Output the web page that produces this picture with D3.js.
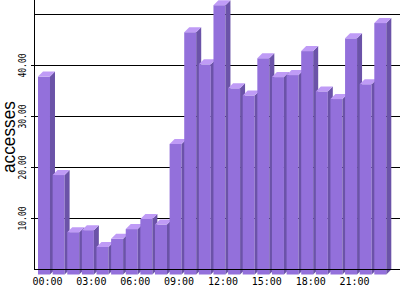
<!DOCTYPE html>
<html><head><meta charset="utf-8">
<script src="https://cdn.jsdelivr.net/npm/d3@7"></script>
<style>body{margin:0;background:#fff}svg{display:block}</style>
</head><body>
<svg id="c" width="400" height="300"></svg>
<script>
const hours = ["00:00","01:00","02:00","03:00","04:00","05:00","06:00","07:00","08:00","09:00","10:00","11:00","12:00","13:00","14:00","15:00","16:00","17:00","18:00","19:00","20:00","21:00","22:00","23:00"];
const accesses = [38.8,19.5,8.3,8.7,5.4,7.0,8.9,10.9,9.8,25.6,47.5,41.2,52.8,36.5,35.1,42.4,38.7,39.1,43.8,35.9,34.4,46.3,37.3,49.3];
const xTickLabels = ["00:00","03:00","06:00","09:00","12:00","15:00","18:00","21:00"];
const gridValues = [10,20,30,40,50];
const yTickValues = [10,20,30,40];
const yTitle = "accesses";

const svg = d3.select("#c");
const depth = 5;
const y = d3.scaleLinear().domain([0, 52.84]).range([269.5, 0]);
const x = d3.scaleBand().domain(hours).range([38, 386.3]).paddingInner(0.18).paddingOuter(0);
const bw = x.bandwidth();

// grid
svg.append("g").selectAll("line").data(gridValues).join("line")
  .attr("x1", 34).attr("x2", 400)
  .attr("y1", d => Math.floor(y(d)) + 0.5).attr("y2", d => Math.floor(y(d)) + 0.5)
  .attr("stroke", "#000").attr("stroke-width", 1);

// bars
const base = y(0);
const bars = svg.append("g").selectAll("g").data(hours).join("g");
bars.append("rect")
  .attr("x", d => x(d)).attr("width", bw)
  .attr("y", (d,i) => y(accesses[i]) + depth)
  .attr("height", (d,i) => base - y(accesses[i]))
  .attr("fill", "#9370DB");
bars.append("polygon")
  .attr("points", (d,i) => {
    const x0 = x(d) + bw, t = y(accesses[i]);
    return [[x0, t + depth],[x0 + depth, t],[x0 + depth, base],[x0, base + depth]].join(" ");
  })
  .attr("fill", "#6B53A8");
bars.append("polygon")
  .attr("points", (d,i) => {
    const x0 = x(d), t = y(accesses[i]);
    return [[x0, t + depth],[x0 + depth, t],[x0 + bw + depth, t],[x0 + bw, t + depth]].join(" ");
  })
  .attr("fill", "#BF9BF6");

// axes lines
svg.append("line").attr("x1", 34.5).attr("x2", 34.5).attr("y1", 0).attr("y2", 270)
  .attr("stroke", "#000");
svg.append("line").attr("x1", 34).attr("x2", 400).attr("y1", 269.5).attr("y2", 269.5)
  .attr("stroke", "#000");

// y ticks
svg.append("g").selectAll("line").data(yTickValues).join("line")
  .attr("x1", 31).attr("x2", 34)
  .attr("y1", d => Math.floor(y(d)) + 0.5).attr("y2", d => Math.floor(y(d)) + 0.5)
  .attr("stroke", "#000");
svg.append("g").selectAll("text").data(yTickValues).join("text")
  .attr("transform", d => `translate(26,${y(d)}) rotate(-90)`)
  .attr("text-anchor", "middle")
  .attr("font-family", "DejaVu Sans Mono")
  .attr("font-size", 10)
  .attr("textLength", 24).attr("lengthAdjust", "spacingAndGlyphs")
  .attr("fill", "#000")
  .text(d => d3.format(".2f")(d));

// x labels
svg.append("g").selectAll("text").data(xTickLabels).join("text")
  .attr("x", d => x(d) + 9.5).attr("y", 284.5)
  .attr("text-anchor", "middle")
  .attr("font-family", "DejaVu Sans Mono")
  .attr("font-size", 10)
  .attr("fill", "#000")
  .text(d => d);

// y title
svg.append("text")
  .attr("transform", "translate(15,137) rotate(-90)")
  .attr("text-anchor", "middle")
  .attr("font-family", "Liberation Sans")
  .attr("font-size", 18)
  .attr("textLength", 72).attr("lengthAdjust", "spacingAndGlyphs")
  .attr("fill", "#000")
  .text(yTitle);
</script>
</body></html>
